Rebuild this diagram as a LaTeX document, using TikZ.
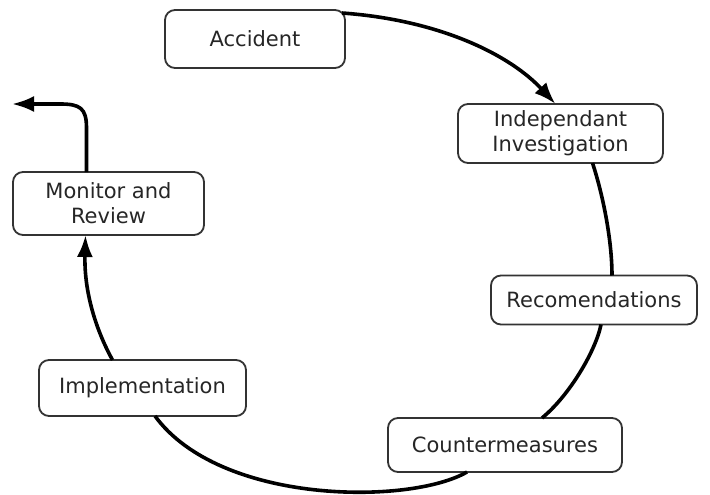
\documentclass[tikz,border=0pt]{standalone}
\usepackage{fontspec}
\setmainfont{DejaVu Sans}
\usetikzlibrary{arrows.meta}
\begin{document}
\begin{tikzpicture}[x=1pt,y=-1pt,
  stage/.style={draw=black!80, line width=1.8pt, rounded corners=10pt, fill=white,
    text=black!85, font=\fontsize{21}{25}\selectfont, align=center,
    inner sep=0pt, outer sep=0pt},
  link/.style={line width=3.6pt, draw=black},
  head/.style={-{Latex[length=22pt,width=16pt]}}
]
% canvas, measured in points with y growing downwards
\fill[white] (0,0) rectangle (710,495);
\useasboundingbox (0,0) rectangle (710,495);

% stages of the cycle
\node[stage, minimum width=180pt, minimum height=58pt] (acc) at (255,39) {Accident};
\node[stage, minimum width=205pt, minimum height=59pt] (ind) at (560.5,133.5) {Independant\\Investigation};
\node[stage, minimum width=206pt, minimum height=49pt] (rec) at (594,300) {Recomendations};
\node[stage, minimum width=234pt, minimum height=54pt] (cm) at (505,445) {Countermeasures};
\node[stage, minimum width=207pt, minimum height=56pt] (imp) at (142.5,388) {Implementation};
\node[stage, minimum width=191pt, minimum height=63pt] (mon) at (108.5,203.5) {Monitor and\\Review};
\coordinate (out) at (12,104);

% connectors running round the circle
\draw[link, head] ([xshift=-3pt,yshift=-3pt]acc.north east)
  .. controls (440,20) and (510,55) .. ([xshift=-5pt]ind.north);
\draw[link] ([xshift=32pt]ind.south)
  .. controls (603,195) and (612,240) .. ([xshift=18pt]rec.north);
\draw[link] ([xshift=7pt]rec.south)
  .. controls (596,350) and (570,395) .. ([xshift=37pt]cm.north);
\draw[link] ([xshift=-38pt]cm.south)
  .. controls (410,505) and (220,505) .. ([xshift=12.5pt]imp.south);
\draw[link, head] ([xshift=-30pt]imp.north)
  .. controls (96,330) and (84,292) .. ([xshift=-23pt]mon.south);
\draw[link, head] ([xshift=-22pt]mon.north) -- ++(0,-44)
  .. controls ++(0,-20) and (80,104) .. (60,104) -- (out);
\end{tikzpicture}
\end{document}
